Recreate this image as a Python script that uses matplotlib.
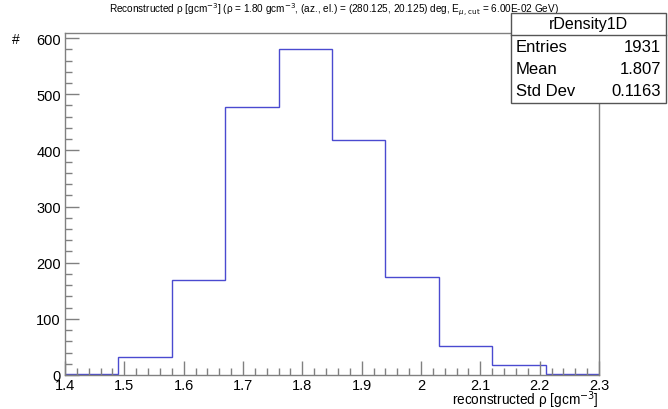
import matplotlib
matplotlib.use("Agg")
import matplotlib.pyplot as plt
from matplotlib.patches import Rectangle
from matplotlib.ticker import MultipleLocator, FuncFormatter

plt.rcParams['font.family'] = ['Liberation Sans', 'DejaVu Sans']

# Histogram content
bin_edges = [1.40, 1.49, 1.58, 1.67, 1.76, 1.85, 1.94, 2.03, 2.12, 2.21, 2.30]
counts = [1, 32, 169, 478, 580, 419, 175, 52, 17, 2]

hist_name = "rDensity1D"
stat_labels = ["Entries", "Mean", "Std Dev"]
stat_values = ["1931", "1.807", "0.1163"]

title = (r"Reconstructed ρ [gcm$^{-3}$] (ρ = 1.80 gcm$^{-3}$, (az., el.) = "
         r"(280.125, 20.125) deg, E$_{\mu,\,\mathrm{cut}}$ = 6.00E-02 GeV)")
xlabel = r"reconstructed ρ [gcm$^{-3}$]"
ylabel = "#"

W, H = 668, 410
fig = plt.figure(figsize=(W / 100, H / 100), dpi=100)
ax = fig.add_axes([65 / W, 1 - 376 / H, (599 - 65) / W, (376 - 34) / H])

frame_col = "#808080"
line_col = "#4a4ad0"

ax.stairs(counts, bin_edges, color=line_col, linewidth=1.0)
ax.set_xlim(bin_edges[0], bin_edges[-1])
ax.set_ylim(0, 1.05 * max(counts))

for s in ax.spines.values():
    s.set_color(frame_col)
    s.set_linewidth(1.0)

ax.xaxis.set_major_locator(MultipleLocator(0.1))
ax.xaxis.set_minor_locator(MultipleLocator(0.02))
ax.yaxis.set_major_locator(MultipleLocator(100))
ax.yaxis.set_minor_locator(MultipleLocator(20))
ax.tick_params(which="both", direction="in", top=False, right=False,
               color=frame_col, labelsize=10.5)
ax.tick_params(which="major", length=10, width=1.0)
ax.tick_params(which="minor", length=5, width=1.0)
ax.tick_params(axis="x", pad=2)
ax.tick_params(axis="y", pad=3)
ax.xaxis.set_major_formatter(FuncFormatter(lambda v, p: f"{v:g}"))

fig.text(334 / W, 1 - 10 / H, title, ha="center", va="center", fontsize=7.2)
fig.text(599 / W, 1 - 400.5 / H, xlabel, ha="right", va="center", fontsize=9.8)
fig.text(16 / W, 1 - 40 / H, ylabel, ha="center", va="center", fontsize=10)

# Statistics box
bx0, bx1, by0, by1, bsep = 511, 666, 14, 104, 36
fig.patches.append(Rectangle((bx0 / W, 1 - by1 / H), (bx1 - bx0) / W, (by1 - by0) / H,
                             transform=fig.transFigure, facecolor="white",
                             edgecolor="#555555", linewidth=1.0, zorder=5))
fig.add_artist(plt.Line2D([bx0 / W, bx1 / W], [1 - bsep / H, 1 - bsep / H],
                          transform=fig.transFigure, color="#555555", linewidth=1.0, zorder=6))
fig.text((bx0 + bx1) / 2 / W, 1 - 25 / H, hist_name, ha="center", va="center",
         fontsize=11.5, zorder=7)
row_y = [47, 69, 91]
for lab, val, yy in zip(stat_labels, stat_values, row_y):
    fig.text((bx0 + 5) / W, 1 - yy / H, lab, ha="left", va="center", fontsize=12, zorder=7)
    fig.text((bx1 - 5) / W, 1 - yy / H, val, ha="right", va="center", fontsize=12, zorder=7)

fig.savefig("out.png", dpi=100)
